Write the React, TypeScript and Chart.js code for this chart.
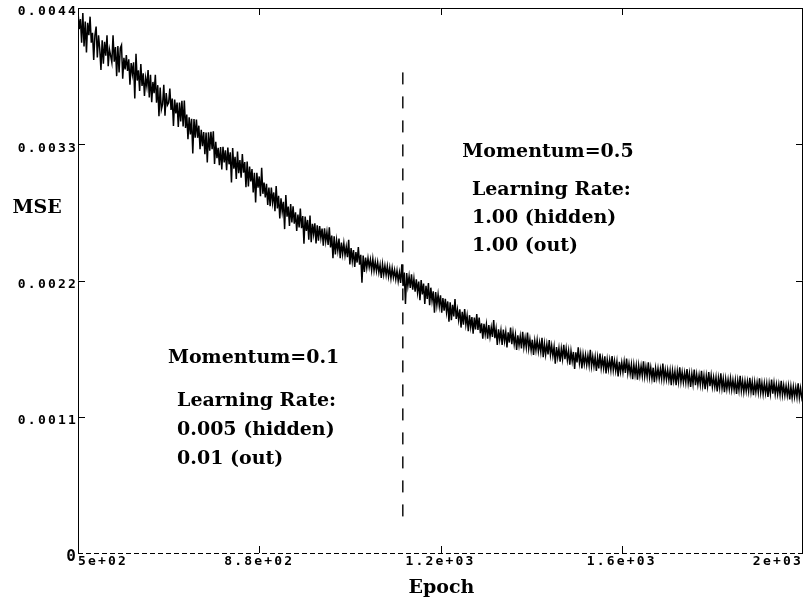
import React, { useEffect, useRef } from "react";
import { Chart, registerables } from "chart.js";

Chart.register(...registerables);

// Training curve: mean squared error sampled every EPOCH_STEP epochs from EPOCH_START.
const EPOCH_START = 500;
const EPOCH_STEP = 2.5;
const MSE_VALUES = [
  0.004370, 0.004230, 0.004310, 0.004120, 0.004360, 0.004090, 0.004290, 0.004040, 0.004280, 0.004180, 0.004330, 0.004120, 0.004200, 0.003980, 0.004180, 0.004250, 0.004000, 0.004180, 0.004070, 0.003900,
  0.004140, 0.003950, 0.004127, 0.004015, 0.004180, 0.003930, 0.004067, 0.004015, 0.003960, 0.004180, 0.003967, 0.004085, 0.003850, 0.004092, 0.003880, 0.004075, 0.004100, 0.003830, 0.003997, 0.003905,
  0.004020, 0.003892, 0.003985, 0.003780, 0.003956, 0.003868, 0.003961, 0.003669, 0.004030, 0.003814, 0.003897, 0.003730, 0.003948, 0.003770, 0.003873, 0.003690, 0.003834, 0.003766, 0.003900, 0.003677,
  0.003860, 0.003640, 0.003803, 0.003712, 0.003860, 0.003635, 0.003777, 0.003526, 0.003758, 0.003580, 0.003621, 0.003780, 0.003530, 0.003713, 0.003615, 0.003634, 0.003750, 0.003577, 0.003669, 0.003448,
  0.003660, 0.003549, 0.003637, 0.003440, 0.003636, 0.003485, 0.003650, 0.003444, 0.003652, 0.003431, 0.003539, 0.003340, 0.003518, 0.003380, 0.003505, 0.003226, 0.003504, 0.003353, 0.003500, 0.003352,
  0.003450, 0.003260, 0.003416, 0.003284, 0.003398, 0.003220, 0.003394, 0.003152, 0.003396, 0.003248, 0.003400, 0.003260, 0.003404, 0.003140, 0.003320, 0.003188, 0.003272, 0.003130, 0.003278, 0.003096,
  0.003280, 0.003154, 0.003251, 0.003090, 0.003274, 0.003138, 0.003235, 0.002991, 0.003270, 0.003102, 0.003199, 0.003020, 0.003242, 0.003066, 0.003173, 0.003030, 0.003220, 0.003070, 0.003157, 0.002953,
  0.003160, 0.002960, 0.003120, 0.003000, 0.003100, 0.002910, 0.003070, 0.002830, 0.003070, 0.002950, 0.003040, 0.002880, 0.003110, 0.002900, 0.002990, 0.002870, 0.002980, 0.002810, 0.002950, 0.002800,
  0.002950, 0.002830, 0.002911, 0.002760, 0.002962, 0.002782, 0.002883, 0.002700, 0.002864, 0.002754, 0.002835, 0.002615, 0.002890, 0.002716, 0.002797, 0.002640, 0.002818, 0.002668, 0.002800, 0.002659,
  0.002750, 0.002600, 0.002733, 0.002629, 0.002780, 0.002622, 0.002721, 0.002497, 0.002716, 0.002600, 0.002689, 0.002530, 0.002724, 0.002510, 0.002657, 0.002573, 0.002662, 0.002500, 0.002645, 0.002521,
  0.002640, 0.002543, 0.002619, 0.002480, 0.002622, 0.002515, 0.002591, 0.002488, 0.002630, 0.002467, 0.002563, 0.002380, 0.002556, 0.002410, 0.002525, 0.002442, 0.002538, 0.002380, 0.002507, 0.002414,
  0.002500, 0.002404, 0.002473, 0.002389, 0.002528, 0.002330, 0.002461, 0.002357, 0.002446, 0.002310, 0.002429, 0.002345, 0.002470, 0.002328, 0.002407, 0.002183, 0.002402, 0.002270, 0.002385, 0.002301,
  0.002380, 0.002306, 0.002368, 0.002282, 0.002374, 0.002280, 0.002352, 0.002276, 0.002348, 0.002264, 0.002326, 0.002220, 0.002332, 0.002248, 0.002320, 0.002244, 0.002316, 0.002232, 0.002304, 0.002218,
  0.002300, 0.002225, 0.002285, 0.002210, 0.002280, 0.002195, 0.002265, 0.002180, 0.002330, 0.002155, 0.002265, 0.002010, 0.002260, 0.002155, 0.002235, 0.002140, 0.002250, 0.002125, 0.002215, 0.002110,
  0.002210, 0.002104, 0.002191, 0.002040, 0.002204, 0.002088, 0.002175, 0.002011, 0.002158, 0.002052, 0.002180, 0.002000, 0.002142, 0.002036, 0.002113, 0.001939, 0.002106, 0.002000, 0.002087, 0.001993,
  0.002080, 0.001940, 0.002059, 0.001956, 0.002052, 0.001945, 0.002031, 0.001868, 0.002024, 0.001880, 0.002003, 0.001910, 0.002050, 0.001889, 0.001965, 0.001882, 0.001968, 0.001820, 0.001947, 0.001844,
  0.001970, 0.001845, 0.001915, 0.001790, 0.001920, 0.001825, 0.001905, 0.001770, 0.001900, 0.001805, 0.001930, 0.001800, 0.001900, 0.001775, 0.001855, 0.001730, 0.001850, 0.001765, 0.001845, 0.001730,
  0.001840, 0.001747, 0.001821, 0.001744, 0.001880, 0.001735, 0.001809, 0.001680, 0.001806, 0.001723, 0.001797, 0.001680, 0.001804, 0.001711, 0.001785, 0.001660, 0.001782, 0.001699, 0.001820, 0.001686,
  0.001780, 0.001687, 0.001761, 0.001640, 0.001758, 0.001675, 0.001749, 0.001652, 0.001786, 0.001663, 0.001737, 0.001660, 0.001780, 0.001651, 0.001725, 0.001638, 0.001722, 0.001600, 0.001713, 0.001636,
  0.001720, 0.001627, 0.001701, 0.001624, 0.001738, 0.001580, 0.001689, 0.001602, 0.001686, 0.001603, 0.001720, 0.001600, 0.001674, 0.001591, 0.001665, 0.001528, 0.001662, 0.001579, 0.001653, 0.001545,
  0.001650, 0.001568, 0.001680, 0.001565, 0.001650, 0.001558, 0.001633, 0.001520, 0.001630, 0.001548, 0.001623, 0.001485, 0.001620, 0.001538, 0.001660, 0.001535, 0.001610, 0.001490, 0.001603, 0.001525,
  0.001600, 0.001518, 0.001594, 0.001516, 0.001640, 0.001510, 0.001586, 0.001508, 0.001584, 0.001470, 0.001578, 0.001490, 0.001610, 0.001494, 0.001570, 0.001492, 0.001588, 0.001450, 0.001562, 0.001484,
  0.001560, 0.001478, 0.001590, 0.001476, 0.001552, 0.001470, 0.001546, 0.001425, 0.001544, 0.001462, 0.001538, 0.001460, 0.001546, 0.001454, 0.001570, 0.001452, 0.001528, 0.001446, 0.001522, 0.001404,
  0.001520, 0.001438, 0.001515, 0.001400, 0.001514, 0.001432, 0.001509, 0.001431, 0.001548, 0.001426, 0.001503, 0.001425, 0.001540, 0.001420, 0.001497, 0.001409, 0.001496, 0.001380, 0.001491, 0.001413,
  0.001490, 0.001408, 0.001485, 0.001407, 0.001530, 0.001402, 0.001479, 0.001401, 0.001478, 0.001396, 0.001473, 0.001355, 0.001472, 0.001390, 0.001467, 0.001355, 0.001466, 0.001384, 0.001500, 0.001383,
  0.001460, 0.001378, 0.001455, 0.001377, 0.001484, 0.001372, 0.001449, 0.001340, 0.001448, 0.001366, 0.001480, 0.001355, 0.001442, 0.001360, 0.001437, 0.001359, 0.001470, 0.001354, 0.001431, 0.001323,
  0.001430, 0.001348, 0.001460, 0.001347, 0.001434, 0.001342, 0.001419, 0.001341, 0.001418, 0.001305, 0.001413, 0.001335, 0.001450, 0.001330, 0.001407, 0.001299, 0.001406, 0.001324, 0.001401, 0.001323,
  0.001410, 0.001319, 0.001397, 0.001318, 0.001396, 0.001285, 0.001393, 0.001314, 0.001430, 0.001311, 0.001389, 0.001300, 0.001388, 0.001307, 0.001385, 0.001306, 0.001414, 0.001303, 0.001381, 0.001275,
  0.001380, 0.001299, 0.001377, 0.001298, 0.001410, 0.001295, 0.001373, 0.001284, 0.001372, 0.001291, 0.001369, 0.001260, 0.001368, 0.001287, 0.001400, 0.001286, 0.001374, 0.001283, 0.001361, 0.001282,
  0.001360, 0.001278, 0.001390, 0.001277, 0.001354, 0.001272, 0.001349, 0.001271, 0.001348, 0.001240, 0.001343, 0.001255, 0.001342, 0.001260, 0.001337, 0.001259, 0.001370, 0.001254, 0.001331, 0.001253,
  0.001300,
];

// Epoch where the momentum / learning-rate settings were switched.
const SWITCH_EPOCH = 1172;
const SWITCH_LINE_MSE = [0.00388, 0.00021];

const X_TICKS = [500, 875, 1250, 1625, 2000];
const X_TICK_LABELS = ["5e+02", "8.8e+02", "1.2e+03", "1.6e+03", "2e+03"];
const Y_TICKS = [0, 0.0011, 0.0022, 0.0033, 0.0044];
const Y_TICK_LABELS = ["0", "0.0011", "0.0022", "0.0033", "0.0044"];

const X_MIN = 500;
const X_MAX = 2000;
const Y_MIN = 0;
const Y_MAX = 0.0044;

// Text notes anchored in data coordinates (left edge epoch, vertical centre MSE).
const NOTES = [
  { text: "Momentum=0.5", epoch: 1295, mse: 0.003237 },
  { text: "Learning Rate:", epoch: 1315, mse: 0.002931 },
  { text: "1.00 (hidden)", epoch: 1315, mse: 0.002705 },
  { text: "1.00 (out)", epoch: 1315, mse: 0.002479 },
  { text: "Momentum=0.1", epoch: 686, mse: 0.001575 },
  { text: "Learning Rate:", epoch: 705, mse: 0.001228 },
  { text: "0.005 (hidden)", epoch: 705, mse: 0.000993 },
  { text: "0.01 (out)", epoch: 705, mse: 0.000759 },
];

const TICK_FONT = "DejaVu Sans Mono";
const SERIF_FONT = "'DejaVu Serif', 'Liberation Serif', serif";

const framePlugin = {
  id: "frame",
  beforeDraw(chart: any) {
    chart.ctx.letterSpacing = "2.2px";
  },
  afterDraw(chart: any) {
    const { ctx, chartArea: a, scales } = chart;
    const xs = scales.x;
    const ys = scales.y;
    ctx.save();
    ctx.letterSpacing = "0px";
    ctx.strokeStyle = "#000";
    ctx.lineWidth = 1;

    // left, top and right sides of the frame
    ctx.beginPath();
    ctx.moveTo(a.left + 0.5, a.bottom);
    ctx.lineTo(a.left + 0.5, a.top + 0.5);
    ctx.lineTo(a.right - 0.5, a.top + 0.5);
    ctx.lineTo(a.right - 0.5, a.bottom);
    ctx.stroke();

    // dashed base line
    ctx.setLineDash([5, 3]);
    ctx.beginPath();
    ctx.moveTo(a.left, a.bottom + 0.5);
    ctx.lineTo(a.right, a.bottom + 0.5);
    ctx.stroke();
    ctx.setLineDash([]);

    // inward tick marks on all four sides
    const tl = 7;
    ctx.beginPath();
    Y_TICKS.slice(1).forEach((v) => {
      const py = Math.round(ys.getPixelForValue(v)) + 0.5;
      ctx.moveTo(a.left, py);
      ctx.lineTo(a.left + tl, py);
      ctx.moveTo(a.right, py);
      ctx.lineTo(a.right - tl, py);
    });
    X_TICKS.slice(1, -1).forEach((v) => {
      const px = Math.round(xs.getPixelForValue(v)) + 0.5;
      ctx.moveTo(px, a.bottom);
      ctx.lineTo(px, a.bottom - tl);
      ctx.moveTo(px, a.top);
      ctx.lineTo(px, a.top + tl);
    });
    ctx.stroke();

    // axis titles
    ctx.fillStyle = "#000";
    ctx.font = `bold 19px ${SERIF_FONT}`;
    ctx.textAlign = "center";
    ctx.textBaseline = "middle";
    ctx.fillText("MSE", 37, 208);
    ctx.fillText("Epoch", (a.left + a.right) / 2 + 1, a.bottom + 35);

    // settings notes
    ctx.textAlign = "left";
    NOTES.forEach((n) => {
      ctx.fillText(n.text, xs.getPixelForValue(n.epoch), ys.getPixelForValue(n.mse));
    });
    ctx.restore();
  },
};

export default function App() {
  const canvasRef = useRef<HTMLCanvasElement | null>(null);

  useEffect(() => {
    document.body.style.margin = "0";
    const canvas = canvasRef.current;
    if (!canvas) return;

    const curve = MSE_VALUES.map((v, i) => ({ x: EPOCH_START + i * EPOCH_STEP, y: v }));
    const switchLine = SWITCH_LINE_MSE.map((v) => ({ x: SWITCH_EPOCH, y: v }));

    const chart = new Chart(canvas, {
      type: "line",
      data: {
        datasets: [
          {
            label: "MSE",
            data: curve,
            borderColor: "#000",
            borderWidth: 1.5,
            pointRadius: 0,
            tension: 0,
          },
          {
            label: "switch",
            data: switchLine,
            borderColor: "#111",
            borderWidth: 1.5,
            borderDash: [12, 12],
            pointRadius: 0,
          },
        ],
      },
      options: {
        animation: false,
        responsive: false,
        devicePixelRatio: 1,
        layout: { padding: { top: 8, right: 3, left: 0, bottom: 0 } },
        plugins: {
          legend: { display: false },
          tooltip: { enabled: false },
        },
        scales: {
          x: {
            type: "linear",
            min: X_MIN,
            max: X_MAX,
            afterBuildTicks: (s: any) => {
              s.ticks = X_TICKS.map((v) => ({ value: v }));
            },
            afterFit: (s: any) => {
              s.height = 53;
            },
            grid: { display: false, drawTicks: false },
            border: { display: false },
            ticks: {
              autoSkip: false,
              maxRotation: 0,
              align: "inner",
              padding: 1,
              color: "#000",
              font: { family: TICK_FONT, weight: "bold", size: 13 },
              callback: (_v: any, i: number) => X_TICK_LABELS[i],
            },
          },
          y: {
            type: "linear",
            min: Y_MIN,
            max: Y_MAX,
            afterBuildTicks: (s: any) => {
              s.ticks = Y_TICKS.map((v) => ({ value: v }));
            },
            afterFit: (s: any) => {
              s.width = 78;
            },
            grid: { display: false, drawTicks: false },
            border: { display: false },
            ticks: {
              autoSkip: false,
              padding: 0,
              labelOffset: 4,
              color: "#000",
              font: (c: any) =>
                c.tick && c.tick.value === 0
                  ? { family: TICK_FONT, weight: "bold", size: 16 }
                  : { family: TICK_FONT, weight: "bold", size: 13 },
              callback: (_v: any, i: number) => Y_TICK_LABELS[i],
            },
          },
        },
      },
      plugins: [framePlugin],
    });

    return () => chart.destroy();
  }, []);

  return (
    <canvas
      ref={canvasRef}
      width={806}
      height={606}
      style={{ display: "block", width: 806, height: 606 }}
    />
  );
}
